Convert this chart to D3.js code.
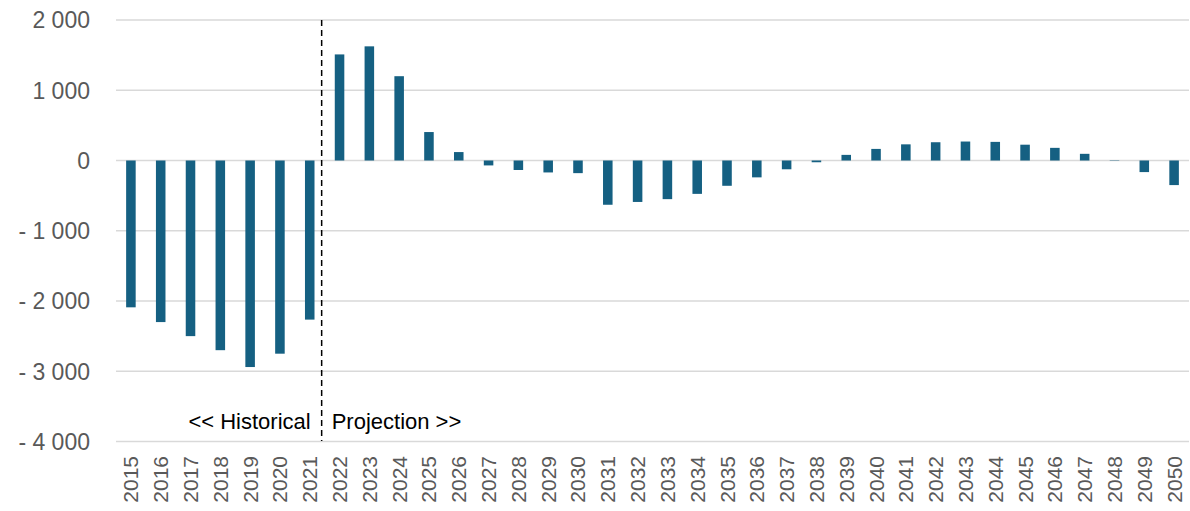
<!DOCTYPE html>
<html><head><meta charset="utf-8">
<script src="https://cdn.jsdelivr.net/npm/d3@7"></script>
<style>body{margin:0;background:#fff}svg{display:block}</style>
</head><body><svg id="c" width="1190" height="511"></svg>
<script>
const years = ["2015","2016","2017","2018","2019","2020","2021","2022","2023","2024","2025","2026","2027","2028","2029","2030","2031","2032","2033","2034","2035","2036","2037","2038","2039","2040","2041","2042","2043","2044","2045","2046","2047","2048","2049","2050"];
const values = [-2090,-2300,-2500,-2700,-2940,-2750,-2265,1510,1625,1200,405,120,-70,-135,-170,-180,-630,-590,-550,-475,-360,-240,-125,-25,80,165,230,260,270,265,225,180,95,-5,-165,-350];
const yTicks = [2000,1000,0,-1000,-2000,-3000,-4000];
const yTickLabels = ["2 000","1 000","0","- 1 000","- 2 000","- 3 000","- 4 000"];
const dividerAfter = "2021";
const leftNote = "<< Historical";
const rightNote = "Projection >>";

const svg = d3.select("#c");
const font = "'Liberation Sans', Arial, sans-serif";
const x = d3.scaleBand().domain(years).range([116, 1189]).paddingInner(0.68).paddingOuter(0.34);
const y = d3.scaleLinear().domain([-4000, 2000]).range([441.5, 20]);

// gridlines
svg.append("g").selectAll("line").data(yTicks).join("line")
  .attr("x1", 116).attr("x2", 1189)
  .attr("y1", d => y(d)).attr("y2", d => y(d))
  .attr("stroke", "#d9d9d9").attr("stroke-width", 1.5);

// y labels
svg.append("g").selectAll("text").data(yTicks).join("text")
  .attr("x", 90).attr("y", d => y(d)).attr("dy", "0.36em")
  .attr("text-anchor", "end").attr("font-family", font).attr("font-size", 23)
  .attr("fill", "#595959")
  .text((d, i) => yTickLabels[i]);

// bars
svg.append("g").selectAll("rect").data(values).join("rect")
  .attr("x", (d, i) => x(years[i]))
  .attr("width", x.bandwidth())
  .attr("y", d => y(Math.max(0, d)))
  .attr("height", d => Math.abs(y(d) - y(0)))
  .attr("fill", "#156082");

// x labels
svg.append("g").selectAll("text").data(years).join("text")
  .attr("transform", d => `translate(${x(d) + x.bandwidth()/2 + 7.5},456) rotate(-90)`)
  .attr("text-anchor", "end").attr("font-family", font).attr("font-size", 21)
  .attr("fill", "#595959")
  .text(d => d);

// divider
const step = x.step();
const dx = x(dividerAfter) + x.bandwidth()/2 + step*0.4;
svg.append("line").attr("x1", dx).attr("x2", dx).attr("y1", 20).attr("y2", 441)
  .attr("stroke", "#000").attr("stroke-width", 1.5).attr("stroke-dasharray", "6,4");

svg.append("text").attr("x", dx - 11).attr("y", 429).attr("text-anchor", "end")
  .attr("font-family", font).attr("font-size", 22).attr("fill", "#000").text(leftNote);
svg.append("text").attr("x", dx + 10).attr("y", 429).attr("text-anchor", "start")
  .attr("font-family", font).attr("font-size", 22).attr("fill", "#000").text(rightNote);
</script></body></html>
